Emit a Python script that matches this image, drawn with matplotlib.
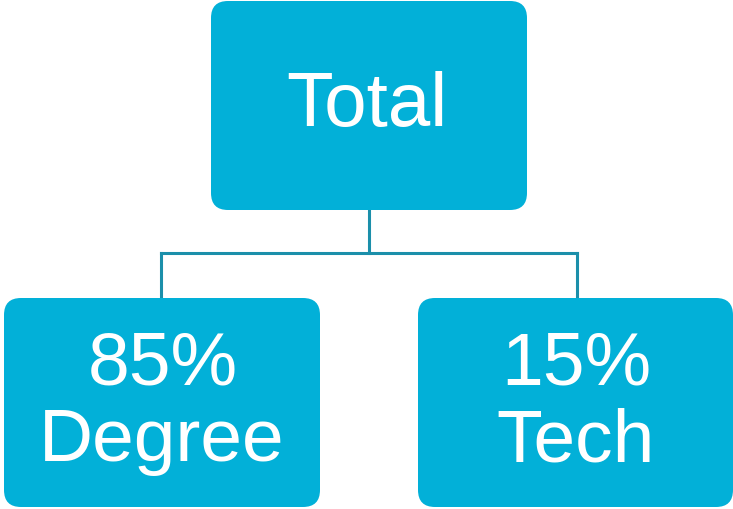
import matplotlib
matplotlib.use('Agg')
import matplotlib.pyplot as plt
from matplotlib.patches import FancyBboxPatch

# org-chart style breakdown
node_names = ['Total', 'Degree', 'Tech']
node_pcts = [None, 85, 15]

fill = '#02B0D8'
line_col = '#1B8FAA'

fig = plt.figure(figsize=(7.33, 5.09), dpi=100)
ax = fig.add_axes([0, 0, 1, 1])
ax.set_xlim(0, 733)
ax.set_ylim(509, 0)
ax.axis('off')

# box layout: (x, y, w, h) in pixel-ish units
boxes = [(211, 1, 316, 209), (4, 298, 316, 209), (418, 298, 315, 209)]

# connectors
top = boxes[0]
cx = top[0] + top[2] / 2
mid_y = 253
ax.plot([cx, cx], [top[1] + top[3], mid_y], color=line_col, lw=2.2, zorder=1)
kids_x = [161, 577]
ax.plot([kids_x[0], kids_x[1]], [mid_y, mid_y], color=line_col, lw=2.2, zorder=1)
for kx in kids_x:
    ax.plot([kx, kx], [mid_y, 298], color=line_col, lw=2.2, zorder=1)

for i, (x, y, w, h) in enumerate(boxes):
    p = FancyBboxPatch((x, y), w, h, boxstyle='round,pad=0,rounding_size=17',
                       facecolor=fill, edgecolor='none', zorder=2)
    ax.add_patch(p)
    bx = x + w / 2
    if node_pcts[i] is None:
        ax.text(bx - 2, 106, node_names[i], ha='center', va='center', color='white',
                fontsize=55, family='Liberation Sans', zorder=3)
    else:
        ax.text(bx + 1, 365, f'{node_pcts[i]}%', ha='center', va='center', color='white',
                fontsize=54, family='Liberation Sans', zorder=3)
        ax.text(bx, 442, node_names[i], ha='center', va='center', color='white',
                fontsize=54, family='Liberation Sans', zorder=3)

fig.savefig('out.png', dpi=100)
